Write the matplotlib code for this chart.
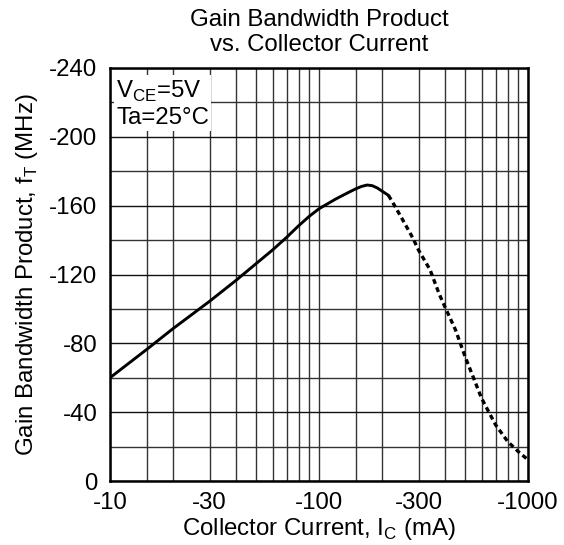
import matplotlib
matplotlib.use("Agg")
import matplotlib.pyplot as plt
from matplotlib.ticker import FixedLocator, NullFormatter

plt.rcParams['font.family'] = ['Liberation Sans', 'DejaVu Sans']
plt.rcParams['mathtext.fontset'] = 'custom'
plt.rcParams['mathtext.rm'] = 'Liberation Sans'

# Data (collector current magnitude in mA, fT magnitude in MHz)
solid_ic = [10, 15, 20, 30, 40, 50, 60, 70, 80, 90, 100, 120, 130, 140, 150, 160, 170, 180, 190, 200, 215]
solid_ft = [60, 76.5, 88.5, 104.5, 116.5, 126.3, 134.3, 141.6, 148.4, 153.9, 158.2, 163.8, 166, 168, 169.8, 171.2, 172, 171.6, 170.3, 168.5, 166]
dot_ic = [215, 225, 250, 280, 300, 340, 375, 400, 450, 500, 600, 700, 800, 900, 1000]
dot_ft = [166, 162, 152.3, 141.6, 134, 122.7, 109, 101.3, 87.8, 72.3, 48, 32.6, 22.9, 17, 12.3]

xticks = [10, 30, 100, 300, 1000]
xticklabels = ['-10', '-30', '-100', '-300', '-1000']
yticks = [0, 40, 80, 120, 160, 200, 240]
yticklabels = ['0', '-40', '-80', '-120', '-160', '-200', '-240']
ygrid_minor = [20, 60, 100, 140, 180, 220]
xgrid = [15, 20, 30, 40, 50, 60, 70, 80, 90, 100,
         150, 200, 300, 400, 500, 600, 700, 800, 900]

FS = 17.3
W, H = 564, 545
fig = plt.figure(figsize=(W / 100, H / 100), dpi=100)
ax = fig.add_axes([110 / W, 1 - 481 / H, (528 - 110) / W, (481 - 68) / H])

ax.set_xscale('log')
ax.set_xlim(10, 1000)
ax.set_ylim(0, 240)

ax.set_xticks(xticks)
ax.set_xticklabels(xticklabels)
ax.xaxis.set_minor_locator(FixedLocator(xgrid))
ax.xaxis.set_minor_formatter(NullFormatter())
ax.set_yticks(yticks)
ax.set_yticklabels(yticklabels)
ax.yaxis.set_minor_locator(FixedLocator(ygrid_minor))

ax.tick_params(which='both', length=0, labelsize=FS, colors='black')
ax.tick_params(axis='x', pad=8)
ax.tick_params(axis='y', pad=9)

ax.grid(True, which='major', axis='y', color='#111111', lw=1.0)
ax.grid(True, which='minor', axis='y', color='#333333', lw=1.0)
ax.grid(True, which='both', axis='x', color='#333333', lw=1.0)
ax.set_axisbelow(True)

for s in ax.spines.values():
    s.set_linewidth(1.8)
    s.set_color('black')

ax.plot(solid_ic, solid_ft, color='black', lw=2.1, solid_capstyle='round',
        solid_joinstyle='round', zorder=3)
ax.plot(dot_ic, dot_ft, color='black', lw=2.4, linestyle=(0, (1.5, 1.1)), zorder=3)

ax.text(0.015, 0.975, 'V$_{\\mathregular{CE}}$=5V\nTa=25°C', transform=ax.transAxes,
        ha='left', va='top', fontsize=FS, linespacing=1.2,
        bbox=dict(facecolor='white', edgecolor='none', pad=1.5), zorder=4)

fig.text(319 / W, 1 - 20 / H, 'Gain Bandwidth Product', ha='center', va='center', fontsize=FS)
fig.text(319 / W, 1 - 45 / H, 'vs. Collector Current', ha='center', va='center', fontsize=FS)

ax.set_xlabel('Collector Current, I$_{\\mathregular{C}}$ (mA)', fontsize=FS, labelpad=1)
ax.set_ylabel('Gain Bandwidth Product, f$_{\\mathregular{T}}$ (MHz)', fontsize=FS, labelpad=7)

fig.savefig('out.png', dpi=100)
